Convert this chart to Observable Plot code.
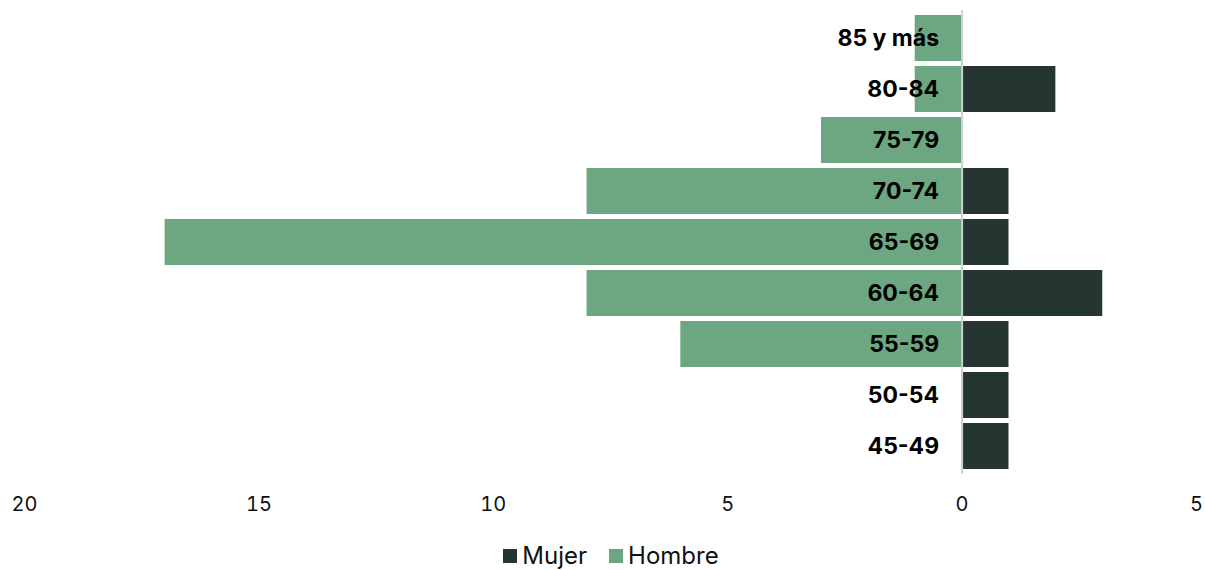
<!DOCTYPE html>
<html><head><meta charset="utf-8">
<script src="https://cdn.jsdelivr.net/npm/d3@7"></script>
<script src="https://cdn.jsdelivr.net/npm/@observablehq/plot@0.6"></script>
<style>
body{margin:0;background:#fff;font-family:Inter,sans-serif;}
#legend{display:flex;justify-content:center;gap:22px;font-size:24px;color:#111;margin-top:13px;line-height:26px;padding-left:17px;}
#legend span{display:inline-flex;align-items:center;}
#legend i{display:inline-block;width:14px;height:14px;margin-right:5px;}
</style></head>
<body><div id="chart"></div><div id="legend"></div>
<script>
const ages = ["85 y más","80-84","75-79","70-74","65-69","60-64","55-59","50-54","45-49"];
const hombre = [1,1,3,8,17,8,6,0,0];
const mujer = [0,2,0,1,1,3,1,1,1];
const series = ["Mujer","Hombre"];
const colors = ["#243532","#6ca781"];
const xTicks = [-20,-15,-10,-5,0,5];

const data = ages.map((a,i)=>({age:a, hombre:hombre[i], mujer:mujer[i]}));

const chart = Plot.plot({
  width:1205, height:530,
  marginLeft:24, marginRight:9, marginTop:10, marginBottom:56,
  style:{fontFamily:"Inter, sans-serif", fontSize:"20px", color:"#111"},
  x:{domain:[-20,5], ticks:xTicks, tickFormat:d=>Math.abs(d), tickSize:0, tickPadding:22, label:null},
  y:{domain:ages, padding:0.09, axis:null},
  marks:[
    Plot.barX(data,{y:"age", x1:0, x2:d=>-d.hombre, fill:colors[1]}),
    Plot.barX(data,{y:"age", x1:0, x2:"mujer", fill:colors[0]}),
    Plot.ruleX([0],{stroke:"#d0d0d0", strokeWidth:2}),
    Plot.text(data,{y:"age", x:0, text:"age", dx:-23, textAnchor:"end", fontWeight:"bold", fontSize:23, fill:"#000"})
  ]
});
document.getElementById("chart").append(chart);
const lg = document.getElementById("legend");
series.forEach((s,i)=>{
  const sp=document.createElement("span");
  sp.innerHTML=`<i style="background:${colors[i]}"></i>${s}`;
  lg.append(sp);
});
</script></body></html>
